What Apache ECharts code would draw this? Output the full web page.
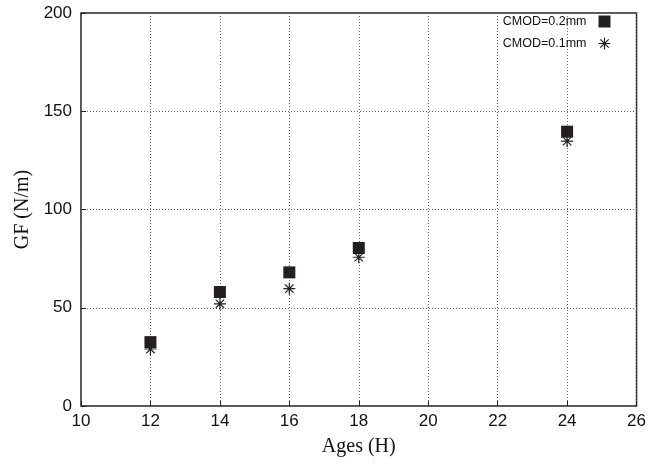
<!DOCTYPE html>
<html>
<head>
<meta charset="utf-8">
<script src="https://cdn.jsdelivr.net/npm/echarts@6/dist/echarts.min.js"></script>
<style>
  html, body { margin: 0; padding: 0; background: #fff; }
  #chart { width: 649px; height: 464px; }
</style>
</head>
<body>
<div id="chart"></div>
<script>
// Fracture energy GF versus age, two crack-mouth opening levels
const ages = [12, 14, 16, 18, 24];
const gfCmod02 = [32.5, 58.0, 68.0, 80.4, 139.6];
const gfCmod01 = [29.0, 52.0, 59.7, 75.7, 134.8];
const seriesNames = ['CMOD=0.2mm', 'CMOD=0.1mm'];

const xTicks = { min: 10, max: 26, step: 2 };
const yTicks = { min: 0, max: 200, step: 50 };

// eight-armed star drawn as open strokes
const starPath = 'path://M0,5L10,5M5,0L5,10M1.5,1.5L8.5,8.5M8.5,1.5L1.5,8.5';

const pairs = (xs, ys) => xs.map((x, i) => [x, ys[i]]);

const tickFont = 'Liberation Sans, Arial, sans-serif';
const titleFont = 'Liberation Serif, Times New Roman, serif';

const chart = echarts.init(document.getElementById('chart'));
chart.setOption({
  animation: false,
  backgroundColor: '#fff',
  grid: {
    left: 81, right: 9, top: 13, bottom: 58,
    show: true, borderColor: '#222', borderWidth: 1.5,
    backgroundColor: 'transparent'
  },
  legend: {
    orient: 'vertical',
    right: 31, top: 10,
    align: 'right',
    itemGap: 7,
    itemWidth: 12, itemHeight: 12,
    textStyle: { fontFamily: tickFont, fontSize: 12.5, color: '#111', padding: [0, 7, 0, 0] },
    data: [
      { name: seriesNames[0], icon: 'rect', itemStyle: { color: '#231f20', opacity: 1 } },
      { name: seriesNames[1], icon: starPath, itemStyle: { color: 'none', borderColor: '#222', borderWidth: 1.2, opacity: 1 } }
    ]
  },
  xAxis: {
    type: 'value',
    min: xTicks.min, max: xTicks.max, interval: xTicks.step,
    name: 'Ages (H)', nameLocation: 'middle', nameGap: 31,
    nameTextStyle: { fontFamily: titleFont, fontSize: 20, color: '#111' },
    axisLine: { show: false },
    axisTick: { show: true, inside: true, length: 5, lineStyle: { color: '#222' } },
    axisLabel: { fontFamily: tickFont, fontSize: 17, color: '#111', margin: 7 },
    splitLine: { show: true, lineStyle: { type: [1, 2], color: '#666', width: 1 } }
  },
  yAxis: {
    type: 'value',
    min: yTicks.min, max: yTicks.max, interval: yTicks.step,
    name: 'GF (N/m)', nameLocation: 'middle', nameGap: 47, nameRotate: 90,
    nameTextStyle: { fontFamily: titleFont, fontSize: 20, color: '#111' },
    axisLine: { show: false },
    axisTick: { show: true, inside: true, length: 5, lineStyle: { color: '#222' } },
    axisLabel: { fontFamily: tickFont, fontSize: 17, color: '#111', margin: 9 },
    splitLine: { show: true, lineStyle: { type: [1, 2], color: '#666', width: 1 } }
  },
  series: [
    {
      name: seriesNames[0],
      type: 'scatter',
      symbol: 'rect',
      symbolSize: 12,
      itemStyle: { color: '#231f20', opacity: 1 },
      data: pairs(ages, gfCmod02),
      z: 3
    },
    {
      name: seriesNames[1],
      type: 'scatter',
      symbol: starPath,
      symbolSize: 12,
      itemStyle: { color: 'none', borderColor: '#222', borderWidth: 1.2, opacity: 1 },
      data: pairs(ages, gfCmod01),
      z: 2
    }
  ]
});
</script>
</body>
</html>
